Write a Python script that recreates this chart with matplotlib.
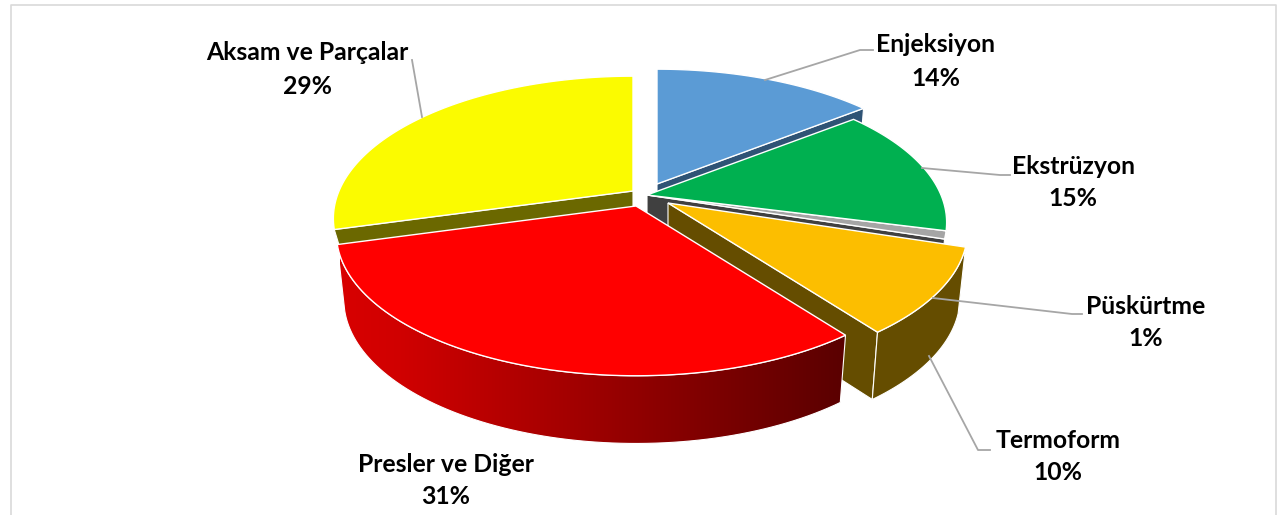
import numpy as np
import matplotlib
matplotlib.use('Agg')
import matplotlib.pyplot as plt
from matplotlib.colors import LinearSegmentedColormap
from matplotlib.patches import Polygon

# chart data, clockwise from 12 o'clock
names = ['Enjeksiyon', 'Ekstrüzyon', 'Püskürtme', 'Termoform', 'Presler ve Diğer', 'Aksam ve Parçalar']
values = [14.4, 14.6, 0.9, 9.8, 31.0, 29.3]

# style
top_colors = ['#5B9BD5', '#00B050', '#A5A5A5', '#FCBE00', '#FF0000', '#FBFB00']
wall_colors = ['#2F5375', '#00602C', '#404040', '#654D00', '#5E0000', '#6B6800']
slice_shift = [(15, -12), (5, -1), (5, -1), (26, 7), (-6, 10), (-9, -5)]

# perspective of the disc, in pixels
center = (642, 196)
K = 0.193
SX = 294
SY = 137
DEPTH = 66
BOTTOM_X = 0.975
BOTTOM_Y = 1.01

# label centres (name line, percent line) and leader lines
label_pos = [(936, 44, 78), (1073, 166, 198), (1146, 306, 338),
             (1058, 441, 473), (446, 465, 497), (307, 52, 86)]
leaders = [[(765, 80), (860, 50), (873, 50)],
           [(922, 168), (1000, 175), (1010, 175)],
           [(933, 298), (1072, 314), (1082, 314)],
           [(929, 356), (978, 450), (990, 450)],
           None,
           [(422, 117), (412, 60)]]


def disc(angle):
    t = np.radians(angle)
    u = np.sin(t)
    v = -np.cos(t)
    d = 1 - K * v
    return np.column_stack([SX * u / d, SY * v / d])


def lower(pts, depth=DEPTH):
    return np.column_stack([pts[:, 0] * BOTTOM_X, pts[:, 1] * BOTTOM_Y + depth])


fig = plt.figure(figsize=(12.78, 5.15), dpi=100)
ax = fig.add_axes([0, 0, 1, 1])
ax.axis('off')

# outer frame, open at the bottom
ax.plot([11, 11, 1276, 1276], [515, 5, 5, 515], color='#D9D9D9', lw=1.2)

edges = np.cumsum([0] + values) * 3.6
apex = []
arcs = []
for i in range(len(values)):
    apex.append(np.array(center) + np.array(slice_shift[i]))
    arcs.append(disc(np.linspace(edges[i], edges[i + 1], 80)))


def top(i, z=1):
    pts = np.vstack([[0, 0], arcs[i]]) + apex[i]
    ax.add_patch(Polygon(pts, closed=True, fc=top_colors[i], ec='white', lw=1.0, zorder=z))


def radial_wall(i, end, depth=DEPTH):
    rim = arcs[i][end]
    pts = np.vstack([[0, 0], rim, lower(rim[None, :], depth)[0], lower(np.zeros((1, 2)), depth)[0]]) + apex[i]
    ax.add_patch(Polygon(pts, closed=True, fc=wall_colors[i], ec='white', lw=0.8))


def arc_wall(i):
    rim = arcs[i]
    return np.vstack([rim, lower(rim)[::-1]]) + apex[i]


# back to front: yellow, blue, gray, green, orange, red
radial_wall(5, 0, depth=24)
top(5)
radial_wall(0, -1)
top(0)
radial_wall(2, -1)
top(2)
top(1)

radial_wall(3, -1)
ax.add_patch(Polygon(arc_wall(3), closed=True, fc=wall_colors[3], ec='white', lw=0.8))
top(3)

ax.add_patch(Polygon(arc_wall(4), closed=True, fc='none', ec='white', lw=0.8, zorder=3))
cmap = LinearSegmentedColormap.from_list('redside', [(0, '#D80000'), (0.12, '#D00000'), (1, '#5A0000')])
grad = np.linspace(0, 1, 256)[None, :]
im = ax.imshow(grad, cmap=cmap, extent=(340, 845, 445, 240), aspect='auto', zorder=2.9)
im.set_clip_path(Polygon(arc_wall(4), closed=True, transform=ax.transData))
top(4, z=3.1)

ax.set_xlim(0, 1278)
ax.set_ylim(515, 0)

for line in leaders:
    if line is not None:
        xs, ys = zip(*line)
        ax.plot(xs, ys, color='#A6A6A6', lw=1.3, zorder=3.2)

for name, val, (x, y1, y2) in zip(names, values, label_pos):
    ax.text(x, y1, name, ha='center', va='center', family='Lato', weight='bold', fontsize=17.8, color='black', zorder=4)
    ax.text(x, y2, '%d%%' % round(val), ha='center', va='center', family='Lato', weight='bold', fontsize=17.8, color='black', zorder=4)

fig.savefig('out.png', dpi=100)
